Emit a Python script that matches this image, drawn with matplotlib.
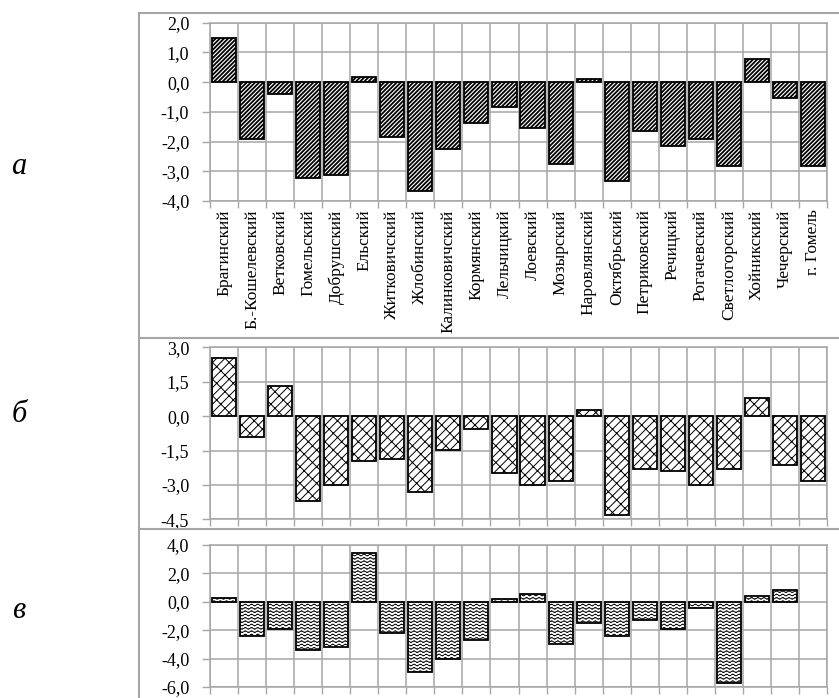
"""Three-panel bar chart of district changes (panels а, б, в)."""

import warnings
import numpy as np
import matplotlib
matplotlib.use("Agg")
import matplotlib.pyplot as plt
from matplotlib import hatch as mhatch
from matplotlib.path import Path
from matplotlib.lines import Line2D

warnings.filterwarnings("ignore")

districts = [
    "Брагинский", "Б.-Кошелевский", "Ветковский", "Гомельский", "Добрушский",
    "Ельский", "Житковичский", "Жлобинский", "Калинковичский", "Кормянский",
    "Лельчицкий", "Лоевский", "Мозырский", "Наровлянский", "Октябрьский",
    "Петриковский", "Речицкий", "Рогачевский", "Светлогорский", "Хойникский",
    "Чечерский", "г. Гомель",
]

change_a = [1.5, -1.92, -0.41, -3.22, -3.14, 0.18, -1.83, -3.65, -2.24, -1.36,
            -0.85, -1.53, -2.75, 0.1, -3.33, -1.64, -2.14, -1.92, -2.82, 0.78,
            -0.52, -2.82]
change_b = [2.53, -0.91, 1.32, -3.7, -3.0, -1.97, -1.87, -3.29, -1.49, -0.58,
            -2.49, -3.0, -2.81, 0.25, -4.31, -2.31, -2.41, -3.0, -2.31, 0.8,
            -2.12, -2.82]
change_c = [0.3, -2.38, -1.94, -3.39, -3.15, 3.46, -2.17, -4.91, -4.04, -2.71,
            0.23, 0.54, -2.99, -1.52, -2.41, -1.26, -1.89, -0.44, -5.7, 0.44,
            0.84, np.nan]

W, H = 839, 698
GRID = "#a6a6a6"


class WavyHatch(mhatch.HatchPatternBase):
    """Horizontal wavy lines, pattern char '~'."""

    def __init__(self, hatch, density):
        self.num_rows = hatch.count("~") * density
        self.num_points = 16 * 8 + 1
        self.num_vertices = self.num_rows * self.num_points

    def set_vertices_and_codes(self, vertices, codes):
        xs = np.linspace(0, 1, self.num_points)
        for i in range(self.num_rows):
            y0 = (i + 0.5) / self.num_rows
            ys = y0 + 0.28 / self.num_rows * np.sin(2 * np.pi * 16 * xs)
            sl = slice(i * self.num_points, (i + 1) * self.num_points)
            vertices[sl, 0] = xs
            vertices[sl, 1] = ys
            codes[sl] = Path.LINETO
            codes[i * self.num_points] = Path.MOVETO


class BrickHatch(mhatch.HatchPatternBase):
    """Diagonal brick pattern, pattern char 'b'."""

    def __init__(self, hatch, density):
        n = hatch.count("b") * density
        self.n = n
        if n:
            self.steps = np.arange(-1.0, 2.0, 1.0 / n)
            self.num_vertices = (2 * n + 1) * 2 * (1 + len(self.steps))
        else:
            self.steps = []
            self.num_vertices = 0

    def set_vertices_and_codes(self, vertices, codes):
        n = self.n
        d = 1.0 / n
        brick = 1.0 / n
        k = 0
        for j in range(-n, n + 1):
            c = j * d
            vertices[k] = (0, c)
            vertices[k + 1] = (1, 1 + c)
            codes[k] = Path.MOVETO
            codes[k + 1] = Path.LINETO
            k += 2
            for t0 in self.steps:
                t = t0 + (j % 2) * brick / 2
                vertices[k] = (t, t + c)
                vertices[k + 1] = (t - d / 2, t + c + d / 2)
                codes[k] = Path.MOVETO
                codes[k + 1] = Path.LINETO
                k += 2


mhatch._hatch_types.append(WavyHatch)
mhatch._hatch_types.append(BrickHatch)

plt.rcParams["font.family"] = ["Liberation Serif", "DejaVu Serif"]

fig = plt.figure(figsize=(W / 100, H / 100), dpi=100)


def make_panel(rect, values, ylim, step, hatch, hatch_lw, show_labels):
    ax = fig.add_axes(rect)
    x = np.arange(len(districts))
    plt.rcParams["hatch.linewidth"] = hatch_lw
    bars = ax.bar(x, values, width=0.86, color="white", edgecolor="black",
                  linewidth=1.3, hatch=hatch, zorder=3)
    for b in bars:
        if hasattr(b, "set_hatch_linewidth"):
            b.set_hatch_linewidth(hatch_lw)
    ax.set_xlim(-0.5, len(districts) - 0.5)
    ax.set_ylim(*ylim)
    ticks = np.arange(ylim[0], ylim[1] + step / 2, step) + 0.0
    ax.set_yticks(ticks)
    ax.set_yticklabels([f"{t + 0.0:.1f}".replace(".", ",") for t in ticks],
                       fontsize=13)
    ax.set_xticks(np.arange(len(districts) + 1) - 0.5)
    ax.set_xticklabels([])
    ax.set_xticks(x, minor=True)
    if show_labels:
        ax.set_xticklabels(districts, minor=True, rotation=90, va="top",
                           fontsize=12.5)
    else:
        ax.set_xticklabels([], minor=True)
    ax.tick_params(axis="x", which="minor", length=0, pad=6)
    ax.tick_params(axis="x", which="major", length=5, color=GRID, width=1)
    ax.tick_params(axis="y", length=6, color=GRID, width=1, pad=9)
    ax.grid(True, which="major", color=GRID, linewidth=1.1, zorder=0)
    ax.set_axisbelow(True)
    for s in ax.spines.values():
        s.set_color(GRID)
        s.set_linewidth(1.1)
    return ax


left = 210 / W
width = 617 / W
make_panel([left, 1 - 201 / H, width, 178.3 / H], change_a, (-4, 2), 1,
           "////////", 1.3, True)
make_panel([left, 1 - 519.3 / H, width, 172 / H], change_b, (-4.5, 3), 1.5,
           "bb", 0.7, False)
make_panel([left, 1 - 687 / H, width, 142 / H], change_c, (-6, 4), 2,
           "~~~~~", 0.6, False)


# chart-area borders
def hline(y, x0=139, x1=W):
    fig.add_artist(Line2D([x0 / W, x1 / W], [1 - y / H, 1 - y / H],
                          transform=fig.transFigure, color=GRID, lw=1.5))


hline(13)
hline(338)
hline(528.5)
fig.add_artist(Line2D([139 / W, 139 / W], [1 - 13 / H, 0],
                      transform=fig.transFigure, color=GRID, lw=1.5))

for label, y in [("а", 166), ("б", 414), ("в", 610)]:
    fig.text(19 / W, 1 - y / H, label, fontsize=22, style="italic",
             ha="center", va="center")

fig.savefig("out.png", dpi=100)
